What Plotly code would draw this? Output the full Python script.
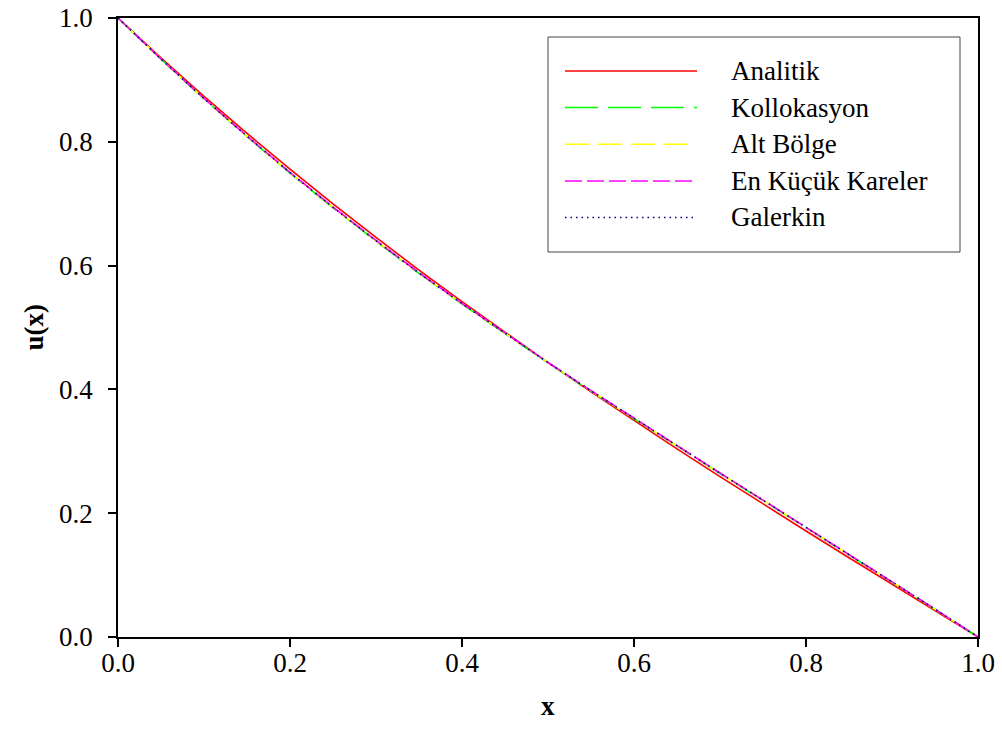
import plotly.graph_objects as go

# ---- data ----
x_vals = [0.0, 0.05, 0.1, 0.15, 0.2, 0.25, 0.3, 0.35, 0.4, 0.45, 0.5,
          0.55, 0.6, 0.65, 0.7, 0.75, 0.8, 0.85, 0.9, 0.95, 1.0]
analitik = [1.0, 0.9356, 0.8735, 0.8136, 0.7557, 0.6997, 0.6455, 0.5928, 0.5418, 0.4920, 0.4434,
            0.3959, 0.3496, 0.3040, 0.2591, 0.2149, 0.1713, 0.1281, 0.0852, 0.0426, 0.0]
kollokasyon = [1.0, 0.9333, 0.8694, 0.8083, 0.7494, 0.6933, 0.6393, 0.5873, 0.5378, 0.4896, 0.4427,
               0.3971, 0.3525, 0.3082, 0.2642, 0.2205, 0.1768, 0.1330, 0.0892, 0.0449, 0.0]
alt_bolge = [1.0, 0.9335, 0.8698, 0.8088, 0.7500, 0.6940, 0.6400, 0.5880, 0.5385, 0.4902, 0.4432,
             0.3975, 0.3528, 0.3085, 0.2645, 0.2208, 0.1770, 0.1332, 0.0893, 0.0450, 0.0]
en_kucuk = [1.0, 0.9337, 0.8701, 0.8092, 0.7505, 0.6946, 0.6406, 0.5886, 0.5390, 0.4907, 0.4437,
            0.3980, 0.3533, 0.3090, 0.2650, 0.2212, 0.1774, 0.1335, 0.0895, 0.0451, 0.0]
galerkin = [1.0, 0.9336, 0.8699, 0.8090, 0.7502, 0.6942, 0.6402, 0.5882, 0.5387, 0.4904, 0.4434,
            0.3977, 0.3530, 0.3087, 0.2647, 0.2210, 0.1772, 0.1333, 0.0894, 0.0450, 0.0]

series_names = ["Analitik", "Kollokasyon", "Alt Bölge", "En Küçük Kareler", "Galerkin"]
series_values = [analitik, kollokasyon, alt_bolge, en_kucuk, galerkin]
series_colors = ["#ff0000", "#00ff00", "#ffff00", "#ff00ff", "#000080"]
series_dash = ["solid", "33px,10px", "24px,9px", "17px,5px", "1.5px,4px"]

tick_vals = [0.0, 0.2, 0.4, 0.6, 0.8, 1.0]
tick_text = ["0.0", "0.2", "0.4", "0.6", "0.8", "1.0"]

FONT = "Liberation Serif"

fig = go.Figure()
for name, vals, col, dash in zip(series_names, series_values, series_colors, series_dash):
    fig.add_trace(go.Scatter(x=x_vals, y=vals, mode="lines", name=name,
                             line=dict(color=col, width=1.6, dash=dash),
                             showlegend=False))

# plot area in px
L, R, T, B = 118, 978, 18, 637
W, H = 1002, 749
pw, ph = R - L, B - T

def px_x(p):
    return (p - L) / pw

def px_y(p):
    return (B - p) / ph

shapes = []
annotations = []
# legend box
shapes.append(dict(type="rect", xref="paper", yref="paper",
                   x0=px_x(548), x1=px_x(960), y0=px_y(252), y1=px_y(37),
                   line=dict(color="#444444", width=1), fillcolor="white", layer="above"))
row_y = [71, 107.5, 144.3, 181, 217.5]
for name, col, dash, ry in zip(series_names, series_colors, series_dash, row_y):
    shapes.append(dict(type="line", xref="paper", yref="paper",
                       x0=px_x(565), x1=px_x(697), y0=px_y(ry), y1=px_y(ry),
                       line=dict(color=col, width=1.6, dash=dash), layer="above"))
    annotations.append(dict(xref="paper", yref="paper", x=px_x(729), y=px_y(ry),
                            xanchor="left", yanchor="middle", text=name, showarrow=False,
                            font=dict(family=FONT, size=27, color="black")))

# axis titles
annotations.append(dict(xref="paper", yref="paper", x=0.5, y=px_y(706),
                        xanchor="center", yanchor="middle", text="<b>x</b>", showarrow=False,
                        font=dict(family=FONT, size=27, color="black")))
annotations.append(dict(xref="paper", yref="paper", x=px_x(33), y=0.5,
                        xanchor="center", yanchor="middle", text="<b>u(x)</b>", showarrow=False,
                        textangle=-90, font=dict(family=FONT, size=27, color="black")))

axis_common = dict(range=[0, 1], tickvals=tick_vals, ticktext=tick_text,
                   showgrid=False, zeroline=False, showline=True, linecolor="black",
                   linewidth=1.5, mirror=True, ticks="outside", ticklen=8, tickwidth=1.5,
                   tickcolor="black", tickfont=dict(family=FONT, size=27, color="black"))

fig.update_layout(
    width=W, height=H,
    margin=dict(l=L, r=W - R, t=T, b=H - B, autoexpand=False),
    paper_bgcolor="white", plot_bgcolor="white",
    xaxis=dict(**axis_common, ticklabelstandoff=-7),
    yaxis=dict(**axis_common, ticklabelstandoff=10),
    shapes=shapes, annotations=annotations,
    font=dict(family=FONT, color="black"),
)

fig.write_html("out.html", config={"displayModeBar": False},
               post_script="document.body.style.margin='0';document.body.style.overflow='hidden';")
